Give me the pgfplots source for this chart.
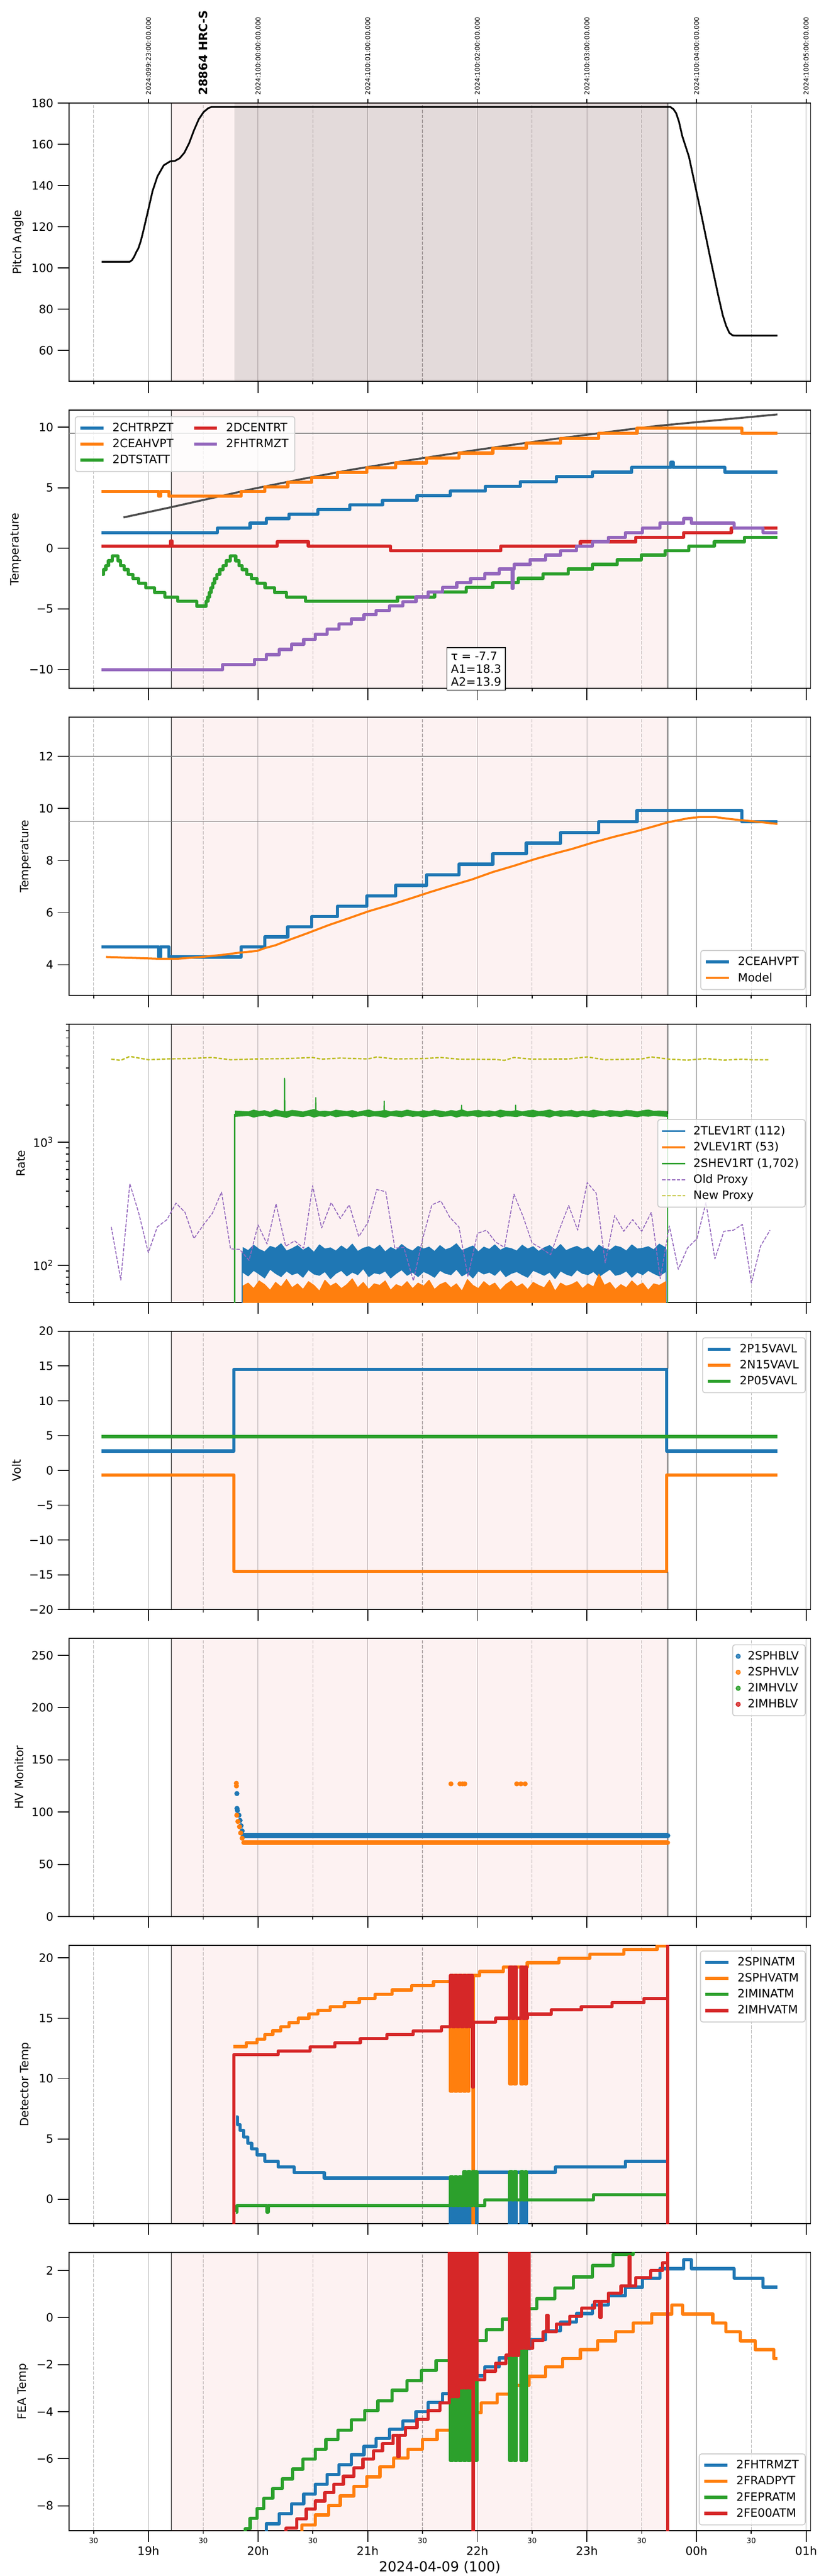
\documentclass[border=0pt]{standalone}
\usepackage{fontspec}
\setmainfont{DejaVu Sans}
\usepackage{pgfplots}
\pgfplotsset{compat=1.18}
\usepackage{pgfplotstable}

\definecolor{tabblue}{HTML}{1F77B4}
\definecolor{taborange}{HTML}{FF7F0E}
\definecolor{tabgreen}{HTML}{2CA02C}
\definecolor{tabred}{HTML}{D62728}
\definecolor{tabpurple}{HTML}{9467BD}
\definecolor{tabolive}{HTML}{BCBD22}
\definecolor{gridgray}{HTML}{B0B0B0}
\definecolor{fitgray}{HTML}{4D4D4D}
\definecolor{hlgray}{HTML}{808080}

\pgfplotstableread{
x y
18.574 -10.02
19.676 -9.60
19.966 -9.18
20.077 -8.76
20.194 -8.34
20.305 -7.92
20.416 -7.50
20.522 -7.09
20.629 -6.67
20.740 -6.25
20.851 -5.83
20.967 -5.48
21.078 -5.13
21.199 -4.75
21.320 -4.40
21.441 -4.00
21.552 -3.61
21.683 -3.23
21.813 -2.83
21.939 -2.48
22.070 -2.09
22.200 -1.71
22.316 -3.30
22.326 -1.71
22.335 -1.33
22.481 -0.94
22.625 -0.56
22.761 -0.19
22.906 0.17
23.051 0.54
23.196 0.92
23.351 1.29
23.506 1.68
23.665 2.08
23.883 2.46
23.955 2.08
24.342 1.68
24.608 1.29
24.738 1.29
}\fhtrmzt

\pgfplotstableread{
x y
18.574 4.69
19.092 4.30
19.110 4.69
19.186 4.30
19.845 4.69
20.063 5.07
20.271 5.46
20.489 5.85
20.725 6.25
20.991 6.64
21.257 7.05
21.538 7.45
21.833 7.86
22.142 8.26
22.447 8.67
22.761 9.08
23.109 9.49
23.457 9.92
24.414 9.49
24.738 9.49
}\ceahvpt

\pgfplotsset{
  panel/.style={
    scale only axis, width=8.925in, height=3.35in,
    anchor=north west,
    xmin=18.275, xmax=25.041,
    xtick={19,20,21,22,23,24,25},
    minor xtick={18.5,19.5,20.5,21.5,22.5,23.5,24.5},
    xticklabels={},
    xmajorgrids=true, xminorgrids=true,
    major x grid style={draw=gridgray, line width=0.55pt},
    minor x grid style={draw=gridgray, line width=0.55pt, dash pattern=on 2.96pt off 1.28pt},
    tick align=outside,
    tick pos=left,
    major tick length=10pt, minor tick length=2.5pt,
    every tick/.append style={black, line width=0.8pt},
    axis line style={line width=0.8pt},
    tick label style={font=\fontsize{10}{12}\selectfont},
    ylabel style={font=\fontsize{10}{12}\selectfont},
    legend cell align=left,
    legend image code/.code={\draw[##1] (0pt,0pt) -- (20pt,0pt);},
    legend style={draw=black!20, line width=0.8pt, rounded corners=2pt, fill=white,
      fill opacity=0.8, text opacity=1, draw opacity=1,
      font=\fontsize{10}{12}\selectfont, inner xsep=3pt, inner ysep=3pt,
      row sep=0pt, nodes={inner sep=2.5pt},
      /tikz/every odd column/.append style={column sep=4pt}},
    every axis plot/.append style={line join=round},
  },
}

\begin{document}
\begin{tikzpicture}
\path[use as bounding box] (0,0) rectangle (10in,31in);

% ---------------- Panel 1: Pitch ----------------
\begin{axis}[panel, at={(0.83in,29.76in)},
  ymin=45, ymax=180,
  ytick={60,80,100,120,140,160,180},
  yticklabels={60,80,100,120,140,160,180},
  ylabel={Pitch Angle}]
\fill[tabred, fill opacity=0.06] (axis cs:19.21,-100) rectangle (axis cs:23.738,400);
\fill[black, fill opacity=0.1] (axis cs:19.783,-100) rectangle (axis cs:23.738,400);
\draw[black, line width=0.6pt] (axis cs:19.21,-100) -- (axis cs:19.21,400);
\draw[black, line width=0.6pt] (axis cs:23.738,-100) -- (axis cs:23.738,400);
\addplot[black, line width=1.5pt] coordinates {
(18.574,103.0)(18.830,103.0)(18.850,103.8)(18.870,105.5)(18.890,107.8)(18.908,109.5)
(18.930,113)(18.951,117.4)(18.995,127.4)(19.038,137.4)(19.082,144.4)(19.140,149.8)
(19.198,151.7)(19.241,151.9)(19.285,153.2)(19.328,155.9)(19.372,160.6)(19.415,166.7)
(19.459,172.1)(19.503,175.6)(19.546,177.5)(19.575,178.07)(23.762,178.07)(23.790,177)
(23.815,175)(23.840,171)(23.870,164)(23.931,154)(24.028,130)(24.125,105)(24.197,87)
(24.240,77)(24.270,72)(24.300,68.5)(24.330,67.3)(24.366,67.2)(24.738,67.2)};
\coordinate (ttl) at (axis cs:19.5,180);
\end{axis}
\node[rotate=90, anchor=west, font=\bfseries\fontsize{10}{12}\selectfont, inner sep=0pt] at ([yshift=6.9pt]ttl) {28864 HRC-S};

\begin{axis}[at={(0.83in,29.76in)}, anchor=north west, scale only axis,
  width=8.925in, height=3.35in, xmin=18.275, xmax=25.041, ymin=0, ymax=1,
  axis x line*=top, axis y line=none, x axis line style={draw=none, -},
  xtick={19,20,21,22,23,24,25},
  xticklabels={2024:099:23:00:00.000,2024:100:00:00:00.000,2024:100:01:00:00.000,2024:100:02:00:00.000,2024:100:03:00:00.000,2024:100:04:00:00.000,2024:100:05:00:00.000},
  xticklabel style={rotate=90, anchor=west, font=\fontsize{5.7}{6}\selectfont},
  tick align=outside, major tick length=3.6pt,
  every tick/.append style={black, line width=0.8pt}]
\addplot[draw=none] coordinates {(20,0.5)};
\end{axis}

% ---------------- Panel 2: Temperature ----------------
\begin{axis}[panel, at={(0.83in,26.065in)},
  ymin=-11.56, ymax=11.41,
  ytick={-10,-5,0,5,10},
  yticklabels={−10,−5,0,5,10},
  ylabel={Temperature},
  legend columns=2,
  legend style={at={(0.008,0.978)}, anchor=north west,
    /tikz/every even column/.append style={column sep=14pt}}]
\addlegendimage{tabblue, line width=2.8pt}\addlegendentry{2CHTRPZT}
\addlegendimage{tabred, line width=2.8pt}\addlegendentry{2DCENTRT}
\addlegendimage{taborange, line width=2.8pt}\addlegendentry{2CEAHVPT}
\addlegendimage{tabpurple, line width=2.8pt}\addlegendentry{2FHTRMZT}
\addlegendimage{tabgreen, line width=2.8pt}\addlegendentry{2DTSTATT}
\fill[tabred, fill opacity=0.06] (axis cs:19.21,-100) rectangle (axis cs:23.738,400);
\draw[black, line width=0.6pt] (axis cs:19.21,-100) -- (axis cs:19.21,400);
\draw[black, line width=0.6pt] (axis cs:23.738,-100) -- (axis cs:23.738,400);
\addplot[hlgray, line width=0.8pt, forget plot] coordinates {(18.275,9.5)(25.041,9.5)};
\addplot[fitgray, line width=1.7pt, forget plot] coordinates {
(18.772,2.55)(19.21,3.40)(19.95,4.9)(20.39,5.7)(20.86,6.5)(21.40,7.3)(21.98,8.1)
(22.60,8.9)(23.28,9.7)(23.64,10.1)(24.738,11.05)};
\addplot[tabblue, line width=2.8pt, const plot, forget plot] coordinates {
(18.574,1.29)(19.628,1.68)(19.928,2.08)(20.077,2.46)(20.281,2.81)(20.546,3.19)
(20.837,3.58)(21.136,3.96)(21.451,4.35)(21.755,4.73)(22.074,5.13)(22.394,5.51)
(22.722,5.92)(23.051,6.28)(23.409,6.68)(23.768,7.12)(23.786,6.68)(24.260,6.28)(24.738,6.28)};
\addplot[taborange, line width=2.8pt, const plot, forget plot] table[x=x,y=y]{\ceahvpt};
\addplot[tabgreen, line width=2.8pt, const plot, forget plot] coordinates {
(18.577,-2.15)(18.592,-1.75)(18.612,-1.43)(18.635,-1.03)(18.671,-0.64)(18.722,-1.03)
(18.744,-1.43)(18.780,-1.75)(18.816,-2.15)(18.860,-2.51)(18.911,-2.87)(18.976,-3.26)
(19.056,-3.65)(19.150,-4.01)(19.266,-4.37)(19.440,-4.77)(19.527,-4.37)(19.542,-4.01)
(19.556,-3.65)(19.571,-3.26)(19.586,-2.87)(19.603,-2.51)(19.625,-2.15)(19.650,-1.75)
(19.680,-1.43)(19.710,-1.03)(19.745,-0.64)(19.796,-1.03)(19.825,-1.43)(19.854,-1.75)
(19.897,-2.15)(19.941,-2.51)(19.991,-2.87)(20.064,-3.26)(20.151,-3.65)(20.260,-4.01)
(20.434,-4.37)(21.272,-4.01)(21.610,-3.61)(21.900,-3.23)(22.142,-2.85)(22.374,-2.47)
(22.601,-2.10)(22.829,-1.71)(23.051,-1.33)(23.278,-0.94)(23.496,-0.56)(23.713,-0.19)
(23.931,0.17)(24.163,0.54)(24.438,0.92)(24.738,0.92)};
\addplot[tabred, line width=2.8pt, const plot, forget plot] coordinates {
(18.574,0.17)(19.200,0.6)(19.215,0.17)(20.176,0.54)(20.459,0.17)(21.209,-0.21)
(22.215,0.17)(22.940,0.54)(23.447,0.92)(23.883,1.29)(24.318,1.68)(24.738,1.68)};
\addplot[tabpurple, line width=2.8pt, const plot, forget plot] table[x=x,y=y]{\fhtrmzt};
\coordinate (tbox) at (axis cs:21.99,-8.15);
\end{axis}
\node[draw=black, line width=0.8pt, fill=white, anchor=north, align=left, inner sep=3.5pt,
  font=\fontsize{10}{11.3}\selectfont] at (tbox) {τ = -7.7\\A1=18.3\\A2=13.9};

% ---------------- Panel 3: Temperature / model ----------------
\begin{axis}[panel, at={(0.83in,22.37in)},
  ymin=2.82, ymax=13.51,
  ytick={4,6,8,10,12},
  yticklabels={4,6,8,10,12},
  ylabel={Temperature},
  legend style={at={(0.9933,0.0194)}, anchor=south east}]
\addlegendimage{tabblue, line width=2.8pt}\addlegendentry{2CEAHVPT}
\addlegendimage{taborange, line width=1.8pt}\addlegendentry{Model}
\fill[tabred, fill opacity=0.06] (axis cs:19.21,-100) rectangle (axis cs:23.738,400);
\draw[black, line width=0.6pt] (axis cs:19.21,-100) -- (axis cs:19.21,400);
\draw[black, line width=0.6pt] (axis cs:23.738,-100) -- (axis cs:23.738,400);
\addplot[hlgray, line width=0.8pt, forget plot] coordinates {(18.275,12)(25.041,12)};
\addplot[hlgray, line width=0.8pt, forget plot] coordinates {(18.275,9.5)(25.041,9.5)};
\addplot[tabblue, line width=2.8pt, const plot, forget plot] table[x=x,y=y]{\ceahvpt};
\addplot[taborange, line width=1.8pt, forget plot] coordinates {
(18.613,4.30)(18.806,4.27)(19.096,4.23)(19.265,4.23)(19.483,4.30)(19.676,4.38)
(19.821,4.46)(19.990,4.53)(20.063,4.64)(20.160,4.75)(20.281,4.95)(20.450,5.21)
(20.643,5.52)(20.837,5.80)(21.006,6.05)(21.223,6.32)(21.417,6.58)(21.562,6.78)
(21.755,7.03)(21.948,7.27)(22.142,7.56)(22.335,7.80)(22.529,8.06)(22.722,8.29)
(22.867,8.45)(23.061,8.70)(23.254,8.92)(23.447,9.12)(23.641,9.35)(23.738,9.47)
(23.931,9.63)(24.028,9.67)(24.173,9.67)(24.318,9.59)(24.511,9.51)(24.738,9.41)};
\end{axis}

% ---------------- Panel 4: Rate ----------------
\begin{axis}[panel, at={(0.83in,18.675in)},
  ymode=log, ymin=50, ymax=9040,
  ytick={100,1000},
  yticklabels={10\textsuperscript{2},10\textsuperscript{3}},
  minor ytick={60,70,80,90,200,300,400,500,600,700,800,900,2000,3000,4000,5000,6000,7000,8000,9000},
  ylabel={Rate},
  legend style={at={(0.9933,0.5)}, anchor=east}]
\addlegendimage{tabblue, line width=1.5pt}\addlegendentry{2TLEV1RT (112)}
\addlegendimage{taborange, line width=1.5pt}\addlegendentry{2VLEV1RT (53)}
\addlegendimage{tabgreen, line width=1.5pt}\addlegendentry{2SHEV1RT (1,702)}
\addlegendimage{tabpurple, line width=0.8pt, dash pattern=on 2.96pt off 1.28pt}\addlegendentry{Old Proxy}
\addlegendimage{tabolive, line width=1.2pt, dash pattern=on 3pt off 1.5pt}\addlegendentry{New Proxy}
\fill[tabred, fill opacity=0.06] (axis cs:19.21,10) rectangle (axis cs:23.738,100000);
\draw[black, line width=0.6pt] (axis cs:19.21,10) -- (axis cs:19.21,100000);
\draw[black, line width=0.6pt] (axis cs:23.738,10) -- (axis cs:23.738,100000);
% 2TLEV1RT band
\addplot[tabblue, fill=tabblue, line width=0.6pt, forget plot] coordinates {
(19.86,140)(19.91,132)(19.96,146)(20.01,135)(20.06,129)(20.11,143)(20.16,138)(20.21,150)
(20.26,131)(20.31,137)(20.36,145)(20.41,133)(20.46,141)(20.51,128)(20.56,147)(20.61,136)
(20.66,139)(20.71,131)(20.76,144)(20.81,134)(20.86,149)(20.91,130)(20.96,138)(21.01,142)
(21.06,135)(21.11,146)(21.16,129)(21.21,140)(21.26,133)(21.31,148)(21.36,137)(21.41,131)
(21.46,143)(21.51,136)(21.56,141)(21.61,130)(21.66,145)(21.71,134)(21.76,139)(21.81,150)
(21.86,132)(21.91,138)(21.96,144)(22.01,129)(22.06,141)(22.11,135)(22.16,147)(22.21,133)
(22.26,140)(22.31,137)(22.36,131)(22.41,146)(22.46,136)(22.51,142)(22.56,130)(22.61,139)
(22.66,145)(22.71,134)(22.76,148)(22.81,132)(22.86,138)(22.91,143)(22.96,135)(23.01,141)
(23.06,129)(23.11,146)(23.16,137)(23.21,133)(23.26,144)(23.31,140)(23.36,131)(23.41,147)
(23.46,136)(23.51,138)(23.56,142)(23.61,134)(23.66,149)(23.72,139)
(23.72,89)(23.66,82)(23.61,86)(23.56,91)(23.51,84)(23.46,88)(23.41,80)(23.36,90)
(23.31,85)(23.26,83)(23.21,93)(23.16,87)(23.11,81)(23.06,89)(23.01,84)(22.96,86)
(22.91,92)(22.86,82)(22.81,85)(22.76,90)(22.71,78)(22.66,88)(22.61,83)(22.56,87)
(22.51,91)(22.46,80)(22.41,84)(22.36,89)(22.31,86)(22.26,81)(22.21,92)(22.16,83)
(22.11,88)(22.06,85)(22.01,90)(21.96,79)(21.91,87)(21.86,82)(21.81,93)(21.76,84)
(21.71,86)(21.66,91)(21.61,80)(21.56,85)(21.51,89)(21.46,81)(21.41,88)(21.36,83)
(21.31,92)(21.26,86)(21.21,79)(21.16,90)(21.11,85)(21.06,87)(21.01,81)(20.96,94)
(20.91,84)(20.86,88)(20.81,82)(20.76,91)(20.71,86)(20.66,78)(20.61,89)(20.56,83)
(20.51,85)(20.46,92)(20.41,80)(20.36,87)(20.31,84)(20.26,90)(20.21,81)(20.16,86)
(20.11,93)(20.06,79)(20.01,85)(19.96,91)(19.91,82)(19.86,88)};
\addplot[tabblue, line width=1pt, forget plot] coordinates {(19.855,45)(19.855,130)};
\addplot[tabblue, line width=1pt, forget plot] coordinates {(23.722,135)(23.722,45)};
% 2VLEV1RT band
\addplot[taborange, fill=taborange, line width=0.6pt, forget plot] coordinates {
(19.86,68)(19.91,72)(19.96,65)(20.01,75)(20.06,70)(20.11,63)(20.16,73)(20.21,67)
(20.26,77)(20.31,66)(20.36,71)(20.41,64)(20.46,74)(20.51,69)(20.56,62)(20.61,76)
(20.66,68)(20.71,72)(20.76,65)(20.81,70)(20.86,78)(20.91,66)(20.96,73)(21.01,64)
(21.06,71)(21.11,69)(21.16,75)(21.21,63)(21.26,70)(21.31,67)(21.36,74)(21.41,65)
(21.46,72)(21.51,68)(21.56,76)(21.61,64)(21.66,70)(21.71,73)(21.76,66)(21.81,71)
(21.86,62)(21.91,77)(21.96,69)(22.01,65)(22.06,74)(22.11,68)(22.16,72)(22.21,63)
(22.26,70)(22.31,75)(22.36,67)(22.41,71)(22.46,64)(22.51,73)(22.56,69)(22.61,66)
(22.66,76)(22.71,62)(22.76,72)(22.81,68)(22.86,70)(22.91,74)(22.96,65)(23.01,71)
(23.06,67)(23.11,85)(23.16,69)(23.21,73)(23.26,64)(23.31,70)(23.36,66)(23.41,75)
(23.46,68)(23.51,72)(23.56,63)(23.61,71)(23.66,69)(23.72,74)(23.72,40)(19.86,40)};
% 2SHEV1RT band
\addplot[tabgreen, fill=tabgreen, line width=0.6pt, forget plot] coordinates {
(19.79,1790)(19.91,1760)(19.96,1820)(20.01,1775)(20.06,1800)(20.11,1750)(20.16,1830)(20.21,1780)
(20.26,1765)(20.31,1810)(20.36,1790)(20.41,1755)(20.46,1800)(20.51,1840)(20.56,1770)(20.61,1785)
(20.66,1760)(20.71,1815)(20.76,1795)(20.81,1770)(20.86,1805)(20.91,1750)(20.96,1790)(21.01,1825)
(21.06,1765)(21.11,1780)(21.16,1810)(21.21,1760)(21.26,1795)(21.31,1775)(21.36,1820)(21.41,1785)
(21.46,1760)(21.51,1800)(21.56,1770)(21.61,1815)(21.66,1790)(21.71,1755)(21.76,1805)(21.81,1780)
(21.86,1830)(21.91,1765)(21.96,1790)(22.01,1810)(22.06,1770)(22.11,1795)(22.16,1760)(22.21,1820)
(22.26,1785)(22.31,1775)(22.36,1805)(22.41,1760)(22.46,1795)(22.51,1815)(22.56,1770)(22.61,1790)
(22.66,1825)(22.71,1765)(22.76,1800)(22.81,1780)(22.86,1810)(22.91,1760)(22.96,1795)(23.01,1775)
(23.06,1820)(23.11,1790)(23.16,1765)(23.21,1805)(23.26,1785)(23.31,1770)(23.36,1810)(23.41,1795)
(23.46,1760)(23.51,1800)(23.56,1825)(23.61,1780)(23.66,1790)(23.735,1770)
(23.735,1610)(23.66,1625)(23.61,1645)(23.56,1615)(23.51,1635)(23.46,1600)(23.41,1620)(23.36,1640)
(23.31,1605)(23.26,1625)(23.21,1610)(23.16,1650)(23.11,1630)(23.06,1595)(23.01,1615)(22.96,1640)
(22.91,1600)(22.86,1620)(22.81,1630)(22.76,1610)(22.71,1645)(22.66,1590)(22.61,1625)(22.56,1635)
(22.51,1600)(22.46,1615)(22.41,1650)(22.36,1605)(22.31,1620)(22.26,1630)(22.21,1595)(22.16,1640)
(22.11,1610)(22.06,1625)(22.01,1600)(21.96,1645)(21.91,1615)(21.86,1630)(21.81,1590)(21.76,1640)
(21.71,1620)(21.66,1605)(21.61,1650)(21.56,1625)(21.51,1595)(21.46,1630)(21.41,1610)(21.36,1645)
(21.31,1600)(21.26,1620)(21.21,1640)(21.16,1585)(21.11,1615)(21.06,1630)(21.01,1605)(20.96,1650)
(20.91,1620)(20.86,1595)(20.81,1640)(20.76,1625)(20.71,1600)(20.66,1655)(20.61,1610)(20.56,1630)
(20.51,1590)(20.46,1645)(20.41,1605)(20.36,1620)(20.31,1640)(20.26,1580)(20.21,1615)(20.16,1635)
(20.11,1600)(20.06,1650)(20.01,1625)(19.96,1590)(19.91,1640)(19.79,1610)};
\addplot[tabgreen, line width=1pt, forget plot] coordinates {(19.787,45)(19.787,1690)};
\addplot[tabgreen, line width=1pt, forget plot] coordinates {(23.738,1700)(23.738,45)};
\addplot[tabgreen, line width=1pt, forget plot] coordinates {
(20.240,1700)(20.242,3290)(20.244,1700)(20.525,1700)(20.527,2290)(20.529,1700)
(21.149,1700)(21.151,2150)(21.153,1700)(21.855,1700)(21.857,1990)(21.859,1700)
(22.348,1700)(22.350,1990)(22.352,1700)};
% Old proxy
\addplot[tabpurple, line width=0.8pt, dash pattern=on 2.96pt off 1.28pt, forget plot] coordinates {
(18.661,205)(18.748,76)(18.830,460)(18.912,265)(18.999,127)(19.081,205)(19.169,235)
(19.251,320)(19.333,270)(19.415,165)(19.502,213)(19.584,265)(19.667,393)(19.749,136)
(19.831,135)(19.918,110)(20.000,213)(20.082,149)(20.164,316)(20.252,143)(20.334,158)
(20.416,138)(20.498,443)(20.580,201)(20.667,323)(20.750,240)(20.832,310)(20.919,171)
(21.001,222)(21.083,412)(21.165,396)(21.248,138)(21.330,140)(21.417,75)(21.499,161)
(21.586,310)(21.668,333)(21.750,245)(21.833,205)(21.915,81)(22.002,182)(22.084,193)
(22.166,155)(22.248,140)(22.335,378)(22.418,249)(22.500,152)(22.582,138)(22.669,122)
(22.751,197)(22.834,306)(22.916,193)(23.003,470)(23.085,385)(23.167,105)(23.254,254)
(23.336,189)(23.418,235)(23.501,189)(23.588,270)(23.670,78)(23.752,209)(23.834,93)
(23.917,138)(24.004,165)(24.086,323)(24.168,113)(24.250,189)(24.337,193)(24.419,215)
(24.501,72)(24.584,143)(24.671,193)};
% New proxy
\addplot[tabolive, line width=1.2pt, dash pattern=on 3pt off 1.5pt, forget plot] coordinates {
(18.661,4700)(18.748,4600)(18.830,4950)(18.999,4650)(19.169,4720)(19.333,4750)
(19.584,4850)(19.749,4650)(20.000,4720)(20.252,4750)(20.498,4850)(20.580,4700)
(20.750,4800)(21.001,4720)(21.083,4900)(21.248,4720)(21.499,4750)(21.668,4850)
(21.833,4700)(22.166,4680)(22.248,4600)(22.335,4850)(22.500,4700)(22.834,4720)
(23.003,4900)(23.167,4650)(23.501,4720)(23.588,4900)(23.752,4700)(23.917,4620)
(24.086,4750)(24.250,4620)(24.419,4700)(24.501,4650)(24.671,4650)};
\end{axis}

% ---------------- Panel 5: Volt ----------------
\begin{axis}[panel, at={(0.83in,14.98in)},
  ymin=-20, ymax=20,
  ytick={-20,-15,-10,-5,0,5,10,15,20},
  yticklabels={−20,−15,−10,−5,0,5,10,15,20},
  ylabel={Volt},
  legend style={at={(0.9933,0.978)}, anchor=north east}]
\addlegendimage{tabblue, line width=2.8pt}\addlegendentry{2P15VAVL}
\addlegendimage{taborange, line width=2.8pt}\addlegendentry{2N15VAVL}
\addlegendimage{tabgreen, line width=2.8pt}\addlegendentry{2P05VAVL}
\fill[tabred, fill opacity=0.06] (axis cs:19.21,-100) rectangle (axis cs:23.738,400);
\draw[black, line width=0.6pt] (axis cs:19.21,-100) -- (axis cs:19.21,400);
\draw[black, line width=0.6pt] (axis cs:23.738,-100) -- (axis cs:23.738,400);
\addplot[tabblue, line width=2.8pt, const plot, forget plot] coordinates {
(18.574,2.78)(19.778,14.5)(23.728,2.78)(24.738,2.78)};
\addplot[taborange, line width=2.8pt, const plot, forget plot] coordinates {
(18.574,-0.64)(19.778,-14.5)(23.728,-0.64)(24.738,-0.64)};
\addplot[tabgreen, line width=2.8pt, forget plot] coordinates {(18.574,4.85)(24.738,4.85)};
\end{axis}

% ---------------- Panel 6: HV Monitor ----------------
\begin{axis}[panel, at={(0.83in,11.285in)},
  ymin=0, ymax=266.3,
  ytick={0,50,100,150,200,250},
  yticklabels={0,50,100,150,200,250},
  ylabel={HV Monitor},
  legend image code/.code={\draw[#1] plot coordinates {(10pt,0pt)};},
  legend style={at={(0.9933,0.978)}, anchor=north east}]
\addlegendimage{only marks, mark=*, mark size=1.8pt, tabblue}\addlegendentry{2SPHBLV}
\addlegendimage{only marks, mark=*, mark size=1.8pt, taborange}\addlegendentry{2SPHVLV}
\addlegendimage{only marks, mark=*, mark size=1.8pt, tabgreen}\addlegendentry{2IMHVLV}
\addlegendimage{only marks, mark=*, mark size=1.8pt, tabred}\addlegendentry{2IMHBLV}
\fill[tabred, fill opacity=0.06] (axis cs:19.21,-100) rectangle (axis cs:23.738,400);
\draw[black, line width=0.6pt] (axis cs:19.21,-100) -- (axis cs:19.21,400);
\draw[black, line width=0.6pt] (axis cs:23.738,-100) -- (axis cs:23.738,400);
\addplot[tabblue, line width=4.4pt, line cap=round, forget plot] coordinates {(19.868,77.6)(23.738,77.6)};
\addplot[only marks, mark=*, mark size=2pt, tabblue, forget plot] coordinates {
(19.807,117.7)(19.808,103.5)(19.812,101.5)(19.826,97)(19.836,92)(19.845,87)(19.855,82)};
\addplot[taborange, line width=4pt, line cap=round, forget plot] coordinates {(19.868,70.8)(23.738,70.8)};
\addplot[only marks, mark=*, mark size=2pt, taborange, forget plot] coordinates {
(19.802,127.5)(19.803,125)(19.806,97)(19.816,91)(19.831,86)(19.841,80)(19.855,75)
(21.760,127)(21.842,127)(21.866,127)(21.886,127)(22.360,127)(22.398,127)(22.437,127)};
\end{axis}

% ---------------- Panel 7: Detector Temp ----------------
\begin{axis}[panel, at={(0.83in,7.59in)},
  ymin=-2.02, ymax=21.05,
  ytick={0,5,10,15,20},
  yticklabels={0,5,10,15,20},
  ylabel={Detector Temp},
  legend style={at={(0.9933,0.981)}, anchor=north east}]
\addlegendimage{tabblue, line width=2.8pt}\addlegendentry{2SPINATM}
\addlegendimage{taborange, line width=2.8pt}\addlegendentry{2SPHVATM}
\addlegendimage{tabgreen, line width=2.8pt}\addlegendentry{2IMINATM}
\addlegendimage{tabred, line width=2.8pt}\addlegendentry{2IMHVATM}
\fill[tabred, fill opacity=0.06] (axis cs:19.21,-100) rectangle (axis cs:23.738,400);
\draw[black, line width=0.6pt] (axis cs:19.21,-100) -- (axis cs:19.21,400);
\draw[black, line width=0.6pt] (axis cs:23.738,-100) -- (axis cs:23.738,400);
\addplot[tabblue, line width=2.8pt, const plot, forget plot] coordinates {
(19.797,6.82)(19.812,6.19)(19.836,5.70)(19.870,5.15)(19.908,4.63)(19.942,4.17)
(19.990,3.69)(20.063,3.16)(20.184,2.69)(20.329,2.20)(20.604,1.76)
(21.755,-5)(21.775,1.76)(21.795,-5)(21.815,1.76)(21.835,-5)(21.855,1.76)(21.875,-5)
(21.895,2.23)(21.915,-5)(21.935,2.23)(21.955,-5)(21.975,2.23)(21.985,-5)(21.997,2.23)
(22.297,-5)(22.317,2.23)(22.337,-5)(22.357,2.23)(22.398,-5)(22.418,2.23)(22.438,-5)(22.448,2.23)
(22.713,2.67)(23.351,3.16)(23.728,3.16)};
\addplot[taborange, line width=2.8pt, const plot, forget plot] coordinates {
(19.773,12.65)(19.894,12.97)(19.990,13.27)(20.063,13.65)(20.135,13.97)(20.208,14.30)
(20.281,14.65)(20.368,15.00)(20.464,15.35)(20.546,15.65)(20.658,15.97)(20.788,16.30)
(20.924,16.65)(21.069,17.00)(21.223,17.35)(21.402,17.70)(21.601,18.05)
(21.755,8.96)(21.775,18.54)(21.795,8.96)(21.815,18.54)(21.835,8.96)(21.855,18.54)
(21.875,8.96)(21.895,18.54)(21.915,8.96)(21.924,18.54)(21.962,-12)(21.964,18.54)
(22.021,18.88)(22.239,19.25)
(22.297,9.58)(22.317,19.25)(22.337,9.58)(22.357,19.25)(22.398,9.58)(22.418,19.25)(22.438,9.58)(22.448,19.25)
(22.456,19.61)(22.746,19.98)(23.027,20.33)(23.336,20.70)(23.641,21.00)(23.728,21.00)};
\addplot[tabgreen, line width=2.8pt, const plot, forget plot] coordinates {
(19.797,-1.05)(19.807,-0.53)(20.082,-1.05)(20.092,-0.53)
(21.755,1.85)(21.775,-0.53)(21.795,1.85)(21.815,-0.53)(21.835,1.85)(21.855,-0.53)
(21.875,2.28)(21.895,-0.53)(21.915,2.28)(21.935,-0.53)(21.955,2.28)(21.975,-0.53)(21.985,2.28)(21.997,-0.53)
(22.070,-0.05)
(22.297,2.28)(22.317,-0.05)(22.337,2.28)(22.357,-0.05)(22.398,2.28)(22.418,-0.05)(22.438,2.28)(22.448,-0.05)
(23.061,0.39)(23.728,0.39)};
\addplot[tabred, line width=2.8pt, const plot, forget plot] coordinates {
(19.778,-5)(19.7785,11.99)(20.184,12.30)(20.474,12.62)(20.701,12.97)(20.933,13.30)
(21.175,13.65)(21.417,13.96)(21.673,14.30)
(21.755,18.54)(21.775,14.30)(21.795,18.54)(21.815,14.30)(21.835,18.54)(21.855,14.30)
(21.875,18.54)(21.895,14.30)(21.915,18.54)(21.935,14.30)(21.945,18.54)(21.955,9.3)(21.965,14.68)
(22.166,15.00)
(22.297,19.25)(22.317,15.0)(22.337,19.25)(22.357,15.0)(22.398,19.25)(22.418,15.0)(22.438,19.25)(22.448,15.0)
(22.456,15.34)(22.674,15.69)(22.950,15.97)(23.230,16.29)(23.520,16.65)(23.738,40)(23.7385,-20)};
\end{axis}

% ---------------- Panel 8: FEA Temp ----------------
\begin{axis}[panel, at={(0.83in,3.895in)},
  ymin=-9.06, ymax=2.773,
  ytick={-8,-6,-4,-2,0,2},
  yticklabels={−8,−6,−4,−2,0,2},
  ylabel={FEA Temp},
  xticklabels={19h,20h,21h,22h,23h,00h,01h},
  extra x ticks={18.5,19.5,20.5,21.5,22.5,23.5,24.5},
  extra x tick labels={30,30,30,30,30,30,30},
  extra x tick style={grid=none, major tick length=2.8pt,
    tick label style={font=\fontsize{6.2}{7}\selectfont}},
  legend style={at={(0.9933,0.0194)}, anchor=south east}]
\addlegendimage{tabblue, line width=2.8pt}\addlegendentry{2FHTRMZT}
\addlegendimage{taborange, line width=2.8pt}\addlegendentry{2FRADPYT}
\addlegendimage{tabgreen, line width=2.8pt}\addlegendentry{2FEPRATM}
\addlegendimage{tabred, line width=2.8pt}\addlegendentry{2FE00ATM}
\fill[tabred, fill opacity=0.06] (axis cs:19.21,-100) rectangle (axis cs:23.738,400);
\draw[black, line width=0.6pt] (axis cs:19.21,-100) -- (axis cs:19.21,400);
\draw[black, line width=0.6pt] (axis cs:23.738,-100) -- (axis cs:23.738,400);
\addplot[tabblue, line width=2.8pt, const plot, forget plot] table[x=x,y=y]{\fhtrmzt};
\addplot[taborange, line width=2.8pt, const plot, forget plot] coordinates {
(20.35,-9.3)(20.401,-8.81)(20.522,-8.39)(20.643,-7.98)(20.750,-7.58)(20.875,-7.17)
(20.991,-6.77)(21.112,-6.35)(21.238,-5.97)(21.368,-5.59)(21.499,-5.18)(21.634,-4.78)
(21.997,-4.05)(22.036,-3.63)(22.181,-3.25)(22.311,-2.89)(22.471,-2.50)(22.625,-2.10)
(22.780,-1.74)(22.940,-1.36)(23.099,-0.99)(23.264,-0.61)(23.423,-0.23)(23.593,0.15)
(23.776,0.53)(23.873,0.15)(24.149,-0.23)(24.270,-0.61)(24.400,-0.99)(24.535,-1.36)
(24.705,-1.74)(24.738,-1.74)};
\addplot[tabgreen, line width=2.8pt, const plot, forget plot] coordinates {
(19.85,-9.4)(19.884,-8.97)(19.928,-8.54)(19.990,-8.12)(20.053,-7.68)(20.135,-7.26)
(20.223,-6.86)(20.314,-6.44)(20.411,-6.02)(20.522,-5.60)(20.619,-5.19)(20.730,-4.78)
(20.851,-4.35)(20.972,-3.95)(21.093,-3.54)(21.223,-3.09)(21.359,-2.68)(21.489,-2.25)
(21.625,-1.83)
(21.755,-6.07)(21.775,-1.83)(21.795,-6.07)(21.815,-1.83)(21.835,-6.07)(21.855,-1.83)
(21.875,-6.07)(21.895,-1.83)(21.915,-6.07)(21.935,-1.83)(21.955,-6.07)(21.975,-1.83)
(21.985,-6.07)(21.997,-0.97)
(22.084,-0.52)(22.229,-0.07)
(22.297,-6.07)(22.317,-0.07)(22.337,-6.07)(22.357,-0.07)(22.398,-6.07)(22.418,-0.07)(22.438,-6.07)(22.448,-0.07)
(22.456,0.38)(22.543,0.81)(22.708,1.26)(22.877,1.73)(23.051,2.21)(23.240,2.68)
(23.423,3.2)(23.728,3.2)};
\addplot[tabred, line width=2.8pt, const plot, forget plot] coordinates {
(20.20,-9.4)(20.256,-8.95)(20.353,-8.56)(20.440,-8.14)(20.522,-7.80)(20.609,-7.44)
(20.692,-7.09)(20.779,-6.75)(20.875,-6.39)(20.957,-6.01)(21.054,-5.67)(21.136,-5.36)
(21.233,-5.00)(21.276,-5.9)(21.286,-5.00)(21.344,-4.68)(21.451,-4.32)(21.552,-3.95)
(21.659,-3.62)
(21.746,5)(21.766,-3.36)(21.786,5)(21.806,-3.36)(21.826,5)(21.846,-3.0)(21.866,5)
(21.886,-3.0)(21.906,5)(21.926,-3.0)(21.946,5)(21.962,-12)(21.964,5)(21.980,-2.64)
(21.990,5)(21.997,-2.64)
(22.070,-2.28)(22.166,-1.95)(22.263,-1.60)
(22.297,5)(22.317,-1.60)(22.337,5)(22.357,-1.60)(22.377,5)(22.397,-1.30)(22.417,5)
(22.437,-1.30)(22.457,5)(22.471,-1.30)
(22.505,-0.97)(22.601,-0.61)(22.635,0.1)(22.645,-0.61)(22.722,-0.28)(22.843,0.06)
(22.954,0.41)(23.070,0.69)(23.119,0.0)(23.129,0.69)(23.196,1.04)(23.312,1.35)
(23.385,2.6)(23.395,1.35)(23.447,1.70)(23.583,2.00)(23.689,2.33)(23.738,40)(23.7385,-30)};
\coordinate (xlc) at (rel axis cs:0.5,0);
\end{axis}
\node[font=\fontsize{12}{14}\selectfont, inner sep=0pt] at ([yshift=-31.7pt]xlc) {2024-04-09 (100)};

\end{tikzpicture}
\end{document}
